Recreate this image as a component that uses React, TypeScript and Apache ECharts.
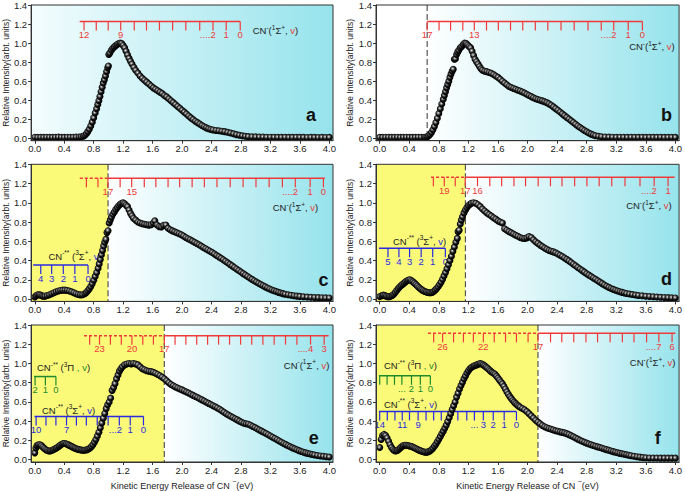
import React, { useEffect, useRef } from 'react';
import * as echarts from 'echarts';

const FONT = '"Liberation Sans", Arial, Helvetica, sans-serif';
const YELLOW = '#fafa78';
const CYAN = '#96e3ec';
const RED = '#f03a3a';
const BLUE = '#2a2ae0';
const GREEN = '#1f8a2a';
const INK = '#222222';

const xTickValues = [0, 0.4, 0.8, 1.2, 1.6, 2.0, 2.4, 2.8, 3.2, 3.6, 4.0];
const yTickValues = [0, 0.2, 0.4, 0.6, 0.8, 1.0, 1.2, 1.4];

// ---------- measured spectra (KER eV, relative intensity) ----------
const kerA = [[0.00,0.012],[0.04,0.010],[0.08,0.011],[0.12,0.010],[0.16,0.012],[0.20,0.011],[0.24,0.010],[0.28,0.012],[0.32,0.013],[0.36,0.011],[0.40,0.010],[0.44,0.012],[0.48,0.011],[0.52,0.012],[0.56,0.013],[0.60,0.014],[0.63,0.016],[0.66,0.022],[0.68,0.032],[0.70,0.048],[0.72,0.070],[0.74,0.095],[0.76,0.130],[0.78,0.170],[0.80,0.215],[0.82,0.265],[0.84,0.310],[0.855,0.355],[0.87,0.395],[0.885,0.440],[0.90,0.490],[0.915,0.535],[0.93,0.580],[0.945,0.615],[0.96,0.655],[0.975,0.700],[0.99,0.740],[1.00,0.760],[1.005,0.880],[1.02,0.895],[1.04,0.925],[1.06,0.945],[1.08,0.960],[1.10,0.975],[1.12,0.985],[1.14,0.995],[1.16,1.000],[1.18,0.995],[1.20,0.975],[1.22,0.950],[1.24,0.915],[1.26,0.875],[1.28,0.840],[1.30,0.810],[1.32,0.780],[1.345,0.745],[1.37,0.715],[1.40,0.685],[1.43,0.655],[1.46,0.630],[1.49,0.610],[1.52,0.590],[1.55,0.570],[1.58,0.550],[1.61,0.530],[1.64,0.515],[1.67,0.500],[1.70,0.485],[1.73,0.470],[1.76,0.450],[1.79,0.435],[1.82,0.415],[1.85,0.395],[1.88,0.375],[1.91,0.355],[1.94,0.335],[1.97,0.315],[2.00,0.295],[2.03,0.275],[2.06,0.255],[2.09,0.235],[2.12,0.215],[2.15,0.197],[2.18,0.180],[2.21,0.165],[2.24,0.150],[2.27,0.135],[2.30,0.122],[2.33,0.110],[2.36,0.100],[2.39,0.093],[2.42,0.088],[2.46,0.083],[2.50,0.079],[2.54,0.075],[2.58,0.070],[2.62,0.063],[2.66,0.055],[2.70,0.047],[2.74,0.039],[2.78,0.032],[2.82,0.026],[2.86,0.021],[2.90,0.018],[2.95,0.016],[3.00,0.015],[3.05,0.014],[3.10,0.013],[3.15,0.012],[3.20,0.012],[3.25,0.011],[3.30,0.011],[3.35,0.010],[3.40,0.011],[3.45,0.010],[3.50,0.010],[3.55,0.011],[3.60,0.010],[3.65,0.010],[3.70,0.009],[3.75,0.010],[3.80,0.010],[3.85,0.009],[3.90,0.010],[3.95,0.009],[4.00,0.010]];

const kerB = [[0.00,0.011],[0.04,0.010],[0.08,0.012],[0.12,0.011],[0.16,0.010],[0.20,0.011],[0.24,0.012],[0.28,0.010],[0.32,0.011],[0.36,0.012],[0.40,0.011],[0.44,0.010],[0.48,0.011],[0.52,0.012],[0.56,0.011],[0.60,0.011],[0.62,0.012],[0.64,0.015],[0.66,0.025],[0.68,0.040],[0.70,0.062],[0.72,0.090],[0.74,0.125],[0.76,0.165],[0.78,0.210],[0.80,0.260],[0.82,0.310],[0.84,0.360],[0.86,0.410],[0.875,0.450],[0.89,0.490],[0.905,0.530],[0.92,0.565],[0.935,0.600],[0.95,0.640],[0.965,0.675],[0.98,0.705],[0.995,0.725],[1.01,0.830],[1.025,0.835],[1.04,0.880],[1.055,0.905],[1.07,0.925],[1.09,0.950],[1.11,0.965],[1.13,0.985],[1.15,1.000],[1.17,0.995],[1.19,0.980],[1.21,0.965],[1.23,0.950],[1.25,0.915],[1.27,0.870],[1.29,0.830],[1.31,0.805],[1.33,0.780],[1.35,0.755],[1.37,0.730],[1.39,0.715],[1.42,0.705],[1.45,0.700],[1.48,0.692],[1.51,0.683],[1.54,0.670],[1.57,0.655],[1.60,0.640],[1.63,0.620],[1.66,0.600],[1.69,0.580],[1.72,0.562],[1.75,0.545],[1.78,0.533],[1.81,0.524],[1.84,0.515],[1.87,0.505],[1.90,0.497],[1.93,0.487],[1.96,0.475],[1.99,0.462],[2.02,0.450],[2.05,0.438],[2.08,0.426],[2.11,0.415],[2.14,0.407],[2.17,0.400],[2.20,0.393],[2.23,0.385],[2.26,0.375],[2.29,0.362],[2.32,0.348],[2.35,0.330],[2.38,0.312],[2.41,0.295],[2.44,0.276],[2.47,0.257],[2.50,0.238],[2.53,0.220],[2.56,0.202],[2.59,0.184],[2.62,0.166],[2.65,0.148],[2.68,0.130],[2.71,0.113],[2.74,0.097],[2.77,0.082],[2.80,0.068],[2.83,0.055],[2.86,0.044],[2.89,0.035],[2.92,0.027],[2.96,0.021],[3.00,0.017],[3.05,0.014],[3.10,0.013],[3.15,0.012],[3.20,0.011],[3.25,0.012],[3.30,0.011],[3.35,0.010],[3.40,0.011],[3.45,0.011],[3.50,0.010],[3.55,0.011],[3.60,0.010],[3.65,0.011],[3.70,0.010],[3.75,0.010],[3.80,0.011],[3.85,0.010],[3.90,0.010],[3.95,0.011],[4.00,0.010]];

const kerC = [[0.00,0.020],[0.02,0.035],[0.04,0.045],[0.06,0.045],[0.08,0.040],[0.10,0.032],[0.12,0.028],[0.14,0.030],[0.17,0.036],[0.20,0.045],[0.23,0.055],[0.26,0.065],[0.29,0.075],[0.32,0.083],[0.35,0.089],[0.38,0.092],[0.41,0.092],[0.44,0.089],[0.47,0.083],[0.50,0.075],[0.53,0.065],[0.56,0.055],[0.59,0.047],[0.62,0.043],[0.65,0.045],[0.68,0.055],[0.70,0.068],[0.72,0.085],[0.74,0.105],[0.76,0.130],[0.78,0.160],[0.80,0.195],[0.82,0.235],[0.84,0.275],[0.86,0.320],[0.875,0.365],[0.89,0.410],[0.905,0.460],[0.92,0.505],[0.935,0.550],[0.95,0.590],[0.965,0.620],[0.98,0.690],[0.995,0.710],[1.01,0.790],[1.025,0.820],[1.04,0.850],[1.06,0.880],[1.08,0.905],[1.10,0.930],[1.12,0.950],[1.14,0.970],[1.16,0.985],[1.18,0.995],[1.20,1.000],[1.22,0.990],[1.24,0.975],[1.26,0.960],[1.28,0.925],[1.30,0.890],[1.32,0.865],[1.34,0.840],[1.37,0.820],[1.40,0.800],[1.43,0.790],[1.46,0.782],[1.49,0.776],[1.52,0.772],[1.55,0.768],[1.58,0.772],[1.61,0.790],[1.63,0.812],[1.66,0.770],[1.69,0.752],[1.72,0.748],[1.75,0.765],[1.78,0.770],[1.81,0.735],[1.84,0.720],[1.87,0.708],[1.90,0.698],[1.93,0.688],[1.96,0.678],[1.99,0.668],[2.02,0.655],[2.05,0.640],[2.08,0.627],[2.11,0.615],[2.14,0.602],[2.17,0.590],[2.20,0.577],[2.23,0.563],[2.26,0.550],[2.29,0.536],[2.32,0.523],[2.35,0.510],[2.38,0.497],[2.41,0.483],[2.44,0.468],[2.47,0.453],[2.50,0.438],[2.53,0.423],[2.56,0.408],[2.59,0.392],[2.62,0.376],[2.65,0.360],[2.68,0.344],[2.71,0.328],[2.74,0.312],[2.77,0.296],[2.80,0.280],[2.83,0.264],[2.86,0.249],[2.89,0.234],[2.92,0.219],[2.95,0.204],[2.98,0.190],[3.01,0.176],[3.04,0.163],[3.07,0.150],[3.10,0.138],[3.13,0.126],[3.16,0.115],[3.19,0.104],[3.22,0.094],[3.25,0.085],[3.28,0.077],[3.31,0.069],[3.34,0.062],[3.37,0.056],[3.40,0.050],[3.44,0.044],[3.48,0.039],[3.52,0.034],[3.56,0.030],[3.60,0.027],[3.65,0.023],[3.70,0.020],[3.75,0.018],[3.80,0.016],[3.85,0.014],[3.90,0.013],[3.95,0.012],[4.00,0.011]];

const kerD = [[0.00,0.025],[0.03,0.035],[0.05,0.040],[0.07,0.035],[0.09,0.028],[0.11,0.024],[0.13,0.024],[0.15,0.028],[0.17,0.036],[0.19,0.050],[0.21,0.068],[0.23,0.088],[0.25,0.108],[0.27,0.125],[0.29,0.140],[0.31,0.152],[0.33,0.165],[0.35,0.178],[0.37,0.190],[0.39,0.198],[0.41,0.200],[0.43,0.190],[0.45,0.178],[0.47,0.165],[0.49,0.150],[0.51,0.135],[0.53,0.120],[0.55,0.106],[0.57,0.095],[0.59,0.086],[0.61,0.078],[0.63,0.072],[0.65,0.068],[0.67,0.065],[0.69,0.065],[0.71,0.068],[0.73,0.078],[0.75,0.092],[0.77,0.108],[0.79,0.128],[0.81,0.150],[0.83,0.175],[0.85,0.205],[0.87,0.240],[0.89,0.275],[0.91,0.315],[0.93,0.355],[0.95,0.400],[0.97,0.445],[0.99,0.495],[1.01,0.540],[1.03,0.590],[1.05,0.630],[1.06,0.700],[1.075,0.715],[1.09,0.780],[1.105,0.820],[1.12,0.855],[1.14,0.895],[1.16,0.925],[1.18,0.950],[1.20,0.970],[1.22,0.985],[1.24,0.995],[1.27,1.000],[1.30,0.995],[1.33,0.980],[1.36,0.960],[1.39,0.935],[1.42,0.915],[1.45,0.895],[1.48,0.878],[1.51,0.862],[1.54,0.845],[1.57,0.830],[1.60,0.812],[1.63,0.800],[1.66,0.790],[1.69,0.730],[1.72,0.715],[1.75,0.700],[1.78,0.688],[1.81,0.675],[1.84,0.663],[1.87,0.652],[1.90,0.640],[1.93,0.632],[1.96,0.628],[1.99,0.635],[2.02,0.648],[2.05,0.640],[2.08,0.615],[2.11,0.595],[2.14,0.578],[2.17,0.560],[2.20,0.545],[2.23,0.530],[2.26,0.517],[2.29,0.505],[2.32,0.497],[2.35,0.490],[2.38,0.480],[2.41,0.468],[2.44,0.455],[2.47,0.442],[2.50,0.427],[2.53,0.412],[2.56,0.396],[2.59,0.379],[2.62,0.362],[2.65,0.345],[2.68,0.328],[2.71,0.311],[2.74,0.295],[2.77,0.279],[2.80,0.263],[2.83,0.248],[2.86,0.233],[2.89,0.219],[2.92,0.205],[2.95,0.190],[2.98,0.175],[3.01,0.160],[3.04,0.146],[3.07,0.133],[3.10,0.121],[3.13,0.110],[3.16,0.100],[3.19,0.091],[3.22,0.083],[3.25,0.076],[3.28,0.069],[3.31,0.063],[3.34,0.057],[3.38,0.051],[3.42,0.046],[3.46,0.041],[3.50,0.037],[3.55,0.033],[3.60,0.029],[3.65,0.026],[3.70,0.023],[3.75,0.020],[3.80,0.018],[3.85,0.016],[3.90,0.014],[3.95,0.012],[4.00,0.011]];

const kerE = [[0.00,0.070],[0.015,0.120],[0.03,0.145],[0.05,0.155],[0.07,0.155],[0.09,0.145],[0.11,0.130],[0.13,0.115],[0.15,0.103],[0.17,0.095],[0.19,0.090],[0.21,0.090],[0.23,0.095],[0.25,0.102],[0.27,0.110],[0.29,0.118],[0.31,0.128],[0.33,0.140],[0.35,0.152],[0.37,0.162],[0.39,0.168],[0.41,0.168],[0.43,0.163],[0.45,0.156],[0.47,0.148],[0.49,0.140],[0.51,0.132],[0.53,0.124],[0.55,0.117],[0.57,0.111],[0.59,0.106],[0.61,0.102],[0.63,0.099],[0.65,0.097],[0.67,0.097],[0.69,0.099],[0.71,0.103],[0.73,0.110],[0.75,0.120],[0.77,0.135],[0.79,0.155],[0.81,0.180],[0.83,0.210],[0.85,0.245],[0.87,0.285],[0.89,0.330],[0.91,0.380],[0.93,0.430],[0.95,0.480],[0.97,0.530],[0.99,0.570],[1.01,0.600],[1.03,0.640],[1.05,0.720],[1.07,0.750],[1.09,0.790],[1.11,0.840],[1.13,0.880],[1.15,0.920],[1.17,0.945],[1.19,0.965],[1.22,0.985],[1.25,0.995],[1.28,1.000],[1.31,0.995],[1.34,1.000],[1.37,0.995],[1.40,0.985],[1.43,0.965],[1.46,0.945],[1.49,0.935],[1.52,0.925],[1.55,0.918],[1.58,0.915],[1.61,0.908],[1.64,0.898],[1.67,0.886],[1.70,0.872],[1.73,0.857],[1.76,0.840],[1.79,0.820],[1.82,0.800],[1.85,0.782],[1.88,0.768],[1.91,0.756],[1.94,0.745],[1.97,0.735],[2.00,0.725],[2.03,0.714],[2.06,0.703],[2.09,0.692],[2.12,0.680],[2.15,0.668],[2.18,0.656],[2.21,0.645],[2.24,0.633],[2.27,0.621],[2.30,0.609],[2.33,0.597],[2.36,0.585],[2.39,0.573],[2.42,0.561],[2.45,0.549],[2.48,0.537],[2.51,0.524],[2.54,0.508],[2.57,0.492],[2.60,0.477],[2.63,0.463],[2.66,0.450],[2.69,0.437],[2.72,0.425],[2.75,0.413],[2.78,0.400],[2.81,0.388],[2.84,0.378],[2.87,0.372],[2.90,0.368],[2.93,0.358],[2.96,0.345],[2.99,0.333],[3.02,0.320],[3.05,0.308],[3.08,0.296],[3.11,0.284],[3.14,0.272],[3.17,0.259],[3.20,0.246],[3.23,0.233],[3.26,0.220],[3.29,0.207],[3.32,0.194],[3.35,0.181],[3.38,0.168],[3.41,0.156],[3.44,0.144],[3.47,0.133],[3.50,0.122],[3.53,0.112],[3.56,0.102],[3.59,0.093],[3.62,0.085],[3.65,0.077],[3.68,0.070],[3.71,0.064],[3.74,0.058],[3.77,0.053],[3.80,0.048],[3.84,0.043],[3.88,0.038],[3.92,0.034],[3.96,0.030],[4.00,0.027]];

const kerF = [[0.00,0.125],[0.02,0.210],[0.04,0.250],[0.06,0.262],[0.08,0.250],[0.10,0.225],[0.12,0.190],[0.14,0.155],[0.16,0.125],[0.18,0.105],[0.20,0.092],[0.22,0.090],[0.24,0.095],[0.26,0.108],[0.28,0.122],[0.30,0.135],[0.32,0.145],[0.34,0.150],[0.36,0.150],[0.38,0.146],[0.40,0.142],[0.42,0.138],[0.44,0.133],[0.46,0.126],[0.48,0.118],[0.50,0.110],[0.52,0.103],[0.54,0.096],[0.56,0.090],[0.58,0.084],[0.60,0.079],[0.62,0.077],[0.64,0.078],[0.66,0.082],[0.68,0.090],[0.70,0.102],[0.72,0.118],[0.74,0.138],[0.76,0.160],[0.78,0.185],[0.80,0.212],[0.82,0.240],[0.84,0.268],[0.86,0.296],[0.88,0.326],[0.90,0.358],[0.92,0.395],[0.94,0.435],[0.96,0.478],[0.98,0.520],[1.00,0.560],[1.02,0.600],[1.04,0.650],[1.06,0.690],[1.08,0.735],[1.10,0.770],[1.12,0.805],[1.14,0.840],[1.16,0.870],[1.18,0.900],[1.20,0.925],[1.22,0.945],[1.24,0.958],[1.26,0.968],[1.28,0.976],[1.30,0.982],[1.32,0.988],[1.34,0.995],[1.36,1.000],[1.38,0.995],[1.40,0.985],[1.42,0.975],[1.44,0.962],[1.46,0.950],[1.48,0.935],[1.50,0.920],[1.52,0.908],[1.54,0.898],[1.56,0.888],[1.58,0.868],[1.60,0.848],[1.62,0.828],[1.64,0.808],[1.66,0.788],[1.68,0.762],[1.70,0.735],[1.72,0.705],[1.74,0.680],[1.76,0.655],[1.78,0.635],[1.80,0.615],[1.82,0.598],[1.84,0.582],[1.86,0.568],[1.88,0.556],[1.90,0.545],[1.93,0.532],[1.96,0.518],[1.99,0.500],[2.02,0.478],[2.05,0.455],[2.08,0.432],[2.11,0.410],[2.14,0.390],[2.17,0.372],[2.20,0.355],[2.23,0.342],[2.26,0.332],[2.29,0.323],[2.32,0.315],[2.35,0.308],[2.38,0.300],[2.41,0.294],[2.44,0.288],[2.47,0.283],[2.50,0.278],[2.53,0.270],[2.56,0.260],[2.59,0.249],[2.62,0.237],[2.65,0.225],[2.68,0.213],[2.71,0.201],[2.74,0.190],[2.77,0.180],[2.80,0.171],[2.83,0.162],[2.86,0.154],[2.89,0.146],[2.92,0.139],[2.95,0.132],[2.98,0.125],[3.01,0.118],[3.04,0.111],[3.07,0.104],[3.10,0.097],[3.13,0.090],[3.16,0.083],[3.19,0.077],[3.22,0.071],[3.25,0.065],[3.28,0.060],[3.31,0.055],[3.34,0.050],[3.37,0.045],[3.40,0.040],[3.44,0.035],[3.48,0.030],[3.52,0.026],[3.56,0.022],[3.60,0.019],[3.65,0.017],[3.70,0.016],[3.75,0.016],[3.80,0.015],[3.85,0.015],[3.90,0.015],[3.95,0.015],[4.00,0.015]];

// ---------- vibrational level combs (KER positions and labels) ----------
const redTicksA = [0.669, 0.835, 0.997, 1.167, 1.351, 1.517, 1.693, 1.872, 2.051, 2.24, 2.42, 2.60, 2.79];
const redLabelsA = ['12', '', '', '9', '', '', '', '', '', '', '....2', '1', '0'];
const redTicksB = [0.642, 0.803, 0.959, 1.124, 1.280, 1.445, 1.605, 1.770, 1.935, 2.105, 2.274, 2.453, 2.631, 2.818, 2.997, 3.166, 3.362, 3.554];
const redLabelsB = ['17', '', '', '', '13', '', '', '', '', '', '', '', '', '', '', '....2', '1', '0'];
const redTicksC = [0.701, 0.858, 0.993, 1.159, 1.316, 1.487, 1.644, 1.81, 1.967, 2.137, 2.303, 2.474, 2.654, 2.829, 3.004, 3.183, 3.363, 3.538, 3.74, 3.92];
const redLabelsC = ['', '', '17', '', '15', '', '', '', '', '', '', '', '', '', '', '', '', '....2', '1', '0'];
const redTicksD = [0.726, 0.874, 1.022, 1.157, 1.323, 1.489, 1.650, 1.816, 1.973, 2.144, 2.310, 2.466, 2.637, 2.803, 2.969, 3.139, 3.318, 3.521, 3.713, 3.901];
const redLabelsD = ['', '19', '', '17', '16', '', '', '', '', '', '', '', '', '', '', '', '', '', '....2', '1'];
const redTicksE = [0.745, 0.879, 1.027, 1.175, 1.319, 1.467, 1.611, 1.759, 1.905, 2.052, 2.199, 2.347, 2.496, 2.645, 2.795, 2.946, 3.098, 3.251, 3.405, 3.56, 3.745, 3.93];
const redLabelsE = ['', '23', '', '', '20', '', '', '17', '', '', '', '', '', '', '', '', '', '', '', '', '....4', '3'];
const redTicksF = [0.730, 0.851, 0.999, 1.133, 1.267, 1.402, 1.550, 1.702, 1.850, 2.007, 2.141, 2.311, 2.463, 2.625, 2.790, 2.947, 3.117, 3.283, 3.440, 3.610, 3.776, 3.955];
const redLabelsF = ['', '26', '', '', '', '22', '', '', '', '', '17', '', '', '', '', '', '', '', '', '', '....7', '6'];

const blueTicksC = [0.081, 0.229, 0.387, 0.544, 0.723];
const blueLabelsC = ['4', '3', '2', '1', '0'];
const blueTicksD = [0.112, 0.260, 0.404, 0.561, 0.717, 0.888];
const blueLabelsD = ['5', '4', '3', '2', '1', '0'];
const blueTicksE = [0.018, 0.152, 0.287, 0.431, 0.565, 0.700, 0.848, 0.996, 1.148, 1.296, 1.476];
const blueLabelsE = ['10', '', '', '7', '', '', '', '', '...2', '1', '0'];
const blueTicksF = [0.0, 0.103, 0.206, 0.305, 0.403, 0.520, 0.627, 0.730, 0.833, 0.941, 1.057, 1.178, 1.281, 1.402, 1.536, 1.684, 1.850];
const blueLabelsF = ['14', '', '', '11', '', '9', '', '', '', '', '', '', '...', '3', '2', '1', '0'];

const greenTicksE = [0.004, 0.144, 0.287];
const greenLabelsE = ['2', '1', '0'];
const greenTicksF = [0.0, 0.1, 0.2, 0.3, 0.43, 0.55, 0.685];
const greenLabelsF = ['', '', '', '...', '2', '1', '0'];

// ---------- layout / styling ----------
type Title = { kind: 'singlet' | 'triplet' | 'pi'; x: number; y: number; align: 'left' | 'right' };
type Comb = {
  ticks: number[]; labels: string[]; y: number; from: number; to: number;
  dashTo?: number; color: string; vColor: string; title: Title;
};
type Panel = {
  id: string; data: number[][];
  box: { left: number; top: number; width: number; height: number };
  split: number | null; leftFill: string | null;
  combs: Comb[]; letter: [number, number]; xName: boolean;
};

const LCOL = { left: 28.3, width: 304.7 };
const RCOL = { left: 376, width: 306 };
const ROWS = [{ top: 4.3, height: 136.4 }, { top: 164.3, height: 137.1 }, { top: 325, height: 137.4 }];

const panels: Panel[] = [
  {
    id: 'a', data: kerA, box: { ...LCOL, ...ROWS[0] }, split: null, leftFill: null, xName: false,
    letter: [3.75, 0.244],
    combs: [{ ticks: redTicksA, labels: redLabelsA, y: 1.226, from: 0.61, to: 2.79, color: RED, vColor: RED,
      title: { kind: 'singlet', x: 2.96, y: 1.14, align: 'left' } }],
  },
  {
    id: 'b', data: kerB, box: { ...RCOL, ...ROWS[0] }, split: 0.642, leftFill: '#ffffff', xName: false,
    letter: [3.88, 0.244],
    combs: [{ ticks: redTicksB, labels: redLabelsB, y: 1.226, from: 0.642, to: 3.554, color: RED, vColor: RED,
      title: { kind: 'singlet', x: 3.99, y: 0.97, align: 'right' } }],
  },
  {
    id: 'c', data: kerC, box: { ...LCOL, ...ROWS[1] }, split: 0.995, leftFill: YELLOW, xName: false,
    letter: [3.92, 0.198],
    combs: [
      { ticks: redTicksC, labels: redLabelsC, y: 1.254, from: 0.611, dashTo: 0.995, to: 3.94, color: RED, vColor: RED,
        title: { kind: 'singlet', x: 3.85, y: 0.96, align: 'right' } },
      { ticks: blueTicksC, labels: blueLabelsC, y: 0.353, from: -0.022, to: 0.723, color: BLUE, vColor: BLUE,
        title: { kind: 'triplet', x: 0.185, y: 0.457, align: 'left' } },
    ],
  },
  {
    id: 'd', data: kerD, box: { ...RCOL, ...ROWS[1] }, split: 1.16, leftFill: YELLOW, xName: false,
    letter: [3.88, 0.208],
    combs: [
      { ticks: redTicksD, labels: redLabelsD, y: 1.265, from: 0.695, dashTo: 1.16, to: 3.99, color: RED, vColor: RED,
        title: { kind: 'singlet', x: 3.95, y: 0.98, align: 'right' } },
      { ticks: blueTicksD, labels: blueLabelsD, y: 0.527, from: -0.009, to: 0.888, color: BLUE, vColor: BLUE,
        title: { kind: 'triplet', x: 0.18, y: 0.613, align: 'left' } },
    ],
  },
  {
    id: 'e', data: kerE, box: { ...LCOL, ...ROWS[2] }, split: 1.759, leftFill: YELLOW, xName: true,
    letter: [3.79, 0.225],
    combs: [
      { ticks: redTicksE, labels: redLabelsE, y: 1.289, from: 0.668, dashTo: 1.759, to: 3.99, color: RED, vColor: RED,
        title: { kind: 'singlet', x: 4.0, y: 0.99, align: 'right' } },
      { ticks: blueTicksE, labels: blueLabelsE, y: 0.449, from: -0.004, to: 1.476, color: BLUE, vColor: BLUE,
        title: { kind: 'triplet', x: 0.098, y: 0.526, align: 'left' } },
      { ticks: greenTicksE, labels: greenLabelsE, y: 0.864, from: -0.01, to: 0.287, color: GREEN, vColor: GREEN,
        title: { kind: 'pi', x: 0.03, y: 0.968, align: 'left' } },
    ],
  },
  {
    id: 'f', data: kerF, box: { ...RCOL, ...ROWS[2] }, split: 2.141, leftFill: YELLOW, xName: true,
    letter: [3.76, 0.225],
    combs: [
      { ticks: redTicksF, labels: redLabelsF, y: 1.314, from: 0.654, dashTo: 2.141, to: 4.0, color: RED, vColor: RED,
        title: { kind: 'singlet', x: 4.0, y: 1.02, align: 'right' } },
      { ticks: blueTicksF, labels: blueLabelsF, y: 0.501, from: -0.01, to: 1.85, color: BLUE, vColor: BLUE,
        title: { kind: 'triplet', x: 0.058, y: 0.588, align: 'left' } },
      { ticks: greenTicksF, labels: greenLabelsF, y: 0.871, from: -0.01, to: 0.685, color: GREEN, vColor: GREEN,
        title: { kind: 'pi', x: 0.058, y: 0.985, align: 'left' } },
    ],
  },
];

const X_MIN = -0.05, X_MAX = 4.05, Y_MIN = -0.025, Y_MAX = 1.4;
const TICK = 9;

function titleText(kind: Title['kind']): string {
  if (kind === 'singlet') return '{t|CN}{s|-}{t|(}{s|1}{t|\u03A3}{s|+}{t|, }{v|v}{t|)}';
  if (kind === 'triplet') return '{t|CN}{s|-**}{t| (}{s|3}{t|\u03A3}{s|+}{t|, }{v|v}{t|)}';
  return '{t|CN}{s|-**}{t| (}{s|3}{t|\u03A0 }{v|, v}{t|)}';
}

function titleRich(vColor: string) {
  return {
    t: { fontSize: 9.5, fontFamily: FONT, fill: INK, lineHeight: 12, verticalAlign: 'bottom' },
    s: { fontSize: 6.5, fontFamily: FONT, fill: INK, lineHeight: 12, verticalAlign: 'top' },
    v: { fontSize: 9.5, fontFamily: FONT, fill: vColor, lineHeight: 12, verticalAlign: 'bottom' },
  };
}

function combSeries(comb: Comb, gi: number) {
  return {
    type: 'custom', xAxisIndex: gi, yAxisIndex: gi, z: 3, silent: true,
    data: comb.ticks.map((x) => [x, comb.y]),
    renderItem: (params: any, api: any) => {
      const i = params.dataIndex;
      const p = api.coord([api.value(0), api.value(1)]);
      const children: any[] = [];
      children.push({ type: 'line', shape: { x1: p[0], y1: p[1], x2: p[0], y2: p[1] + TICK },
        style: { stroke: comb.color, lineWidth: 1.2 } });
      const lab = comb.labels[i];
      if (lab) {
        const dotted = lab.length > 1 && lab[0] === '.' && /\d$/.test(lab);
        children.push({ type: 'text', x: dotted ? p[0] + 2.7 : p[0], y: p[1] + TICK - 1,
          style: { text: lab, fill: comb.color, fontSize: 9.5, fontFamily: FONT,
            align: dotted ? 'right' : 'center', verticalAlign: 'top' } });
      }
      if (i === 0) {
        const a = api.coord([comb.from, comb.y]);
        const b = api.coord([comb.to, comb.y]);
        if (comb.dashTo != null) {
          const d = api.coord([comb.dashTo, comb.y]);
          children.push({ type: 'line', shape: { x1: a[0], y1: a[1], x2: d[0], y2: d[1] },
            style: { stroke: comb.color, lineWidth: 1.5, lineDash: [3, 2] } });
          children.push({ type: 'line', shape: { x1: d[0], y1: d[1], x2: b[0], y2: b[1] },
            style: { stroke: comb.color, lineWidth: 1.5 } });
        } else {
          children.push({ type: 'line', shape: { x1: a[0], y1: a[1], x2: b[0], y2: b[1] },
            style: { stroke: comb.color, lineWidth: 1.5 } });
        }
        const tp = api.coord([comb.title.x, comb.title.y]);
        children.push({ type: 'text', x: tp[0], y: tp[1],
          style: { text: titleText(comb.title.kind), rich: titleRich(comb.vColor),
            align: comb.title.align, verticalAlign: 'middle' } });
      }
      return { type: 'group', children };
    },
  };
}

function backgroundSeries(p: Panel, gi: number) {
  const regions: { from: number; to: number; kind: string }[] = [];
  if (p.split == null) regions.push({ from: X_MIN, to: X_MAX, kind: 'grad0' });
  else {
    regions.push({ from: X_MIN, to: p.split, kind: 'left' });
    regions.push({ from: p.split, to: X_MAX, kind: 'grad' });
    regions.push({ from: p.split, to: p.split, kind: 'dash' });
  }
  return {
    type: 'custom', xAxisIndex: gi, yAxisIndex: gi, z: 1, silent: true,
    data: regions.map((r) => [r.from, r.to]),
    renderItem: (params: any, api: any) => {
      const r = regions[params.dataIndex];
      const cs = params.coordSys;
      const x0 = api.coord([api.value(0), 0])[0];
      const x1 = api.coord([api.value(1), 0])[0];
      if (r.kind === 'dash') {
        return { type: 'line', shape: { x1: x0, y1: cs.y, x2: x0, y2: cs.y + cs.height },
          style: { stroke: '#555', lineWidth: 1.2, lineDash: [6, 3] } };
      }
      let fill: any;
      if (r.kind === 'left') fill = p.leftFill;
      else fill = new echarts.graphic.LinearGradient(0, 0, 1, 0, [
        { offset: 0, color: r.kind === 'grad0' ? '#f4fdfe' : '#ffffff' },
        { offset: 1, color: CYAN },
      ]);
      return { type: 'rect', shape: { x: x0, y: cs.y, width: x1 - x0, height: cs.height }, style: { fill } };
    },
  };
}

function letterSeries(p: Panel, gi: number) {
  return {
    type: 'custom', xAxisIndex: gi, yAxisIndex: gi, z: 4, silent: true,
    data: [p.letter],
    renderItem: (params: any, api: any) => {
      const pt = api.coord([api.value(0), api.value(1)]);
      return { type: 'text', x: pt[0], y: pt[1],
        style: { text: p.id, fill: '#111', fontSize: 18, fontWeight: 'bold', fontFamily: FONT,
          align: 'center', verticalAlign: 'middle' } };
    },
  };
}

const sphere = new echarts.graphic.RadialGradient(0.42, 0.4, 0.55, [
  { offset: 0, color: '#f2f2f2' },
  { offset: 0.25, color: '#8a8a8a' },
  { offset: 0.6, color: '#161616' },
  { offset: 1, color: '#000000' },
]);

function buildOption() {
  const grid = panels.map((p) => ({ ...p.box, show: true, borderColor: '#333', borderWidth: 1,
    backgroundColor: 'transparent', z: 10 }));
  const xAxis = panels.map((p, gi) => ({
    gridIndex: gi, type: 'value', min: X_MIN, max: X_MAX, z: 10,
    axisLine: { show: true, onZero: false, lineStyle: { color: '#333', width: 1 } },
    axisTick: { show: true, customValues: xTickValues, length: 3, lineStyle: { color: '#333' } },
    axisLabel: { customValues: xTickValues, formatter: (v: number) => v.toFixed(1), fontSize: 9.5,
      color: INK, fontFamily: FONT, margin: 3 },
    splitLine: { show: false },
    name: p.xName ? '{n|Kinetic Energy Release of CN }{s|\u2212}{n|(eV)}' : '',
    nameLocation: 'middle', nameGap: 16,
    nameTextStyle: { rich: {
      n: { fontSize: 9, fontFamily: FONT, color: INK, lineHeight: 12, verticalAlign: 'bottom' },
      s: { fontSize: 7, fontFamily: FONT, color: INK, lineHeight: 12, verticalAlign: 'top' },
    } },
  }));
  const yAxis = panels.map((p, gi) => ({
    gridIndex: gi, type: 'value', min: Y_MIN, max: Y_MAX, z: 10,
    axisLine: { show: true, onZero: false, lineStyle: { color: '#333', width: 1 } },
    axisTick: { show: true, customValues: yTickValues, length: 3, lineStyle: { color: '#333' } },
    axisLabel: { customValues: yTickValues, formatter: (v: number) => v.toFixed(1), fontSize: 9.5,
      color: INK, fontFamily: FONT, margin: 4 },
    splitLine: { show: false },
    name: 'Relative Intensity(arbt. units)', nameLocation: 'middle', nameGap: 15,
    nameTextStyle: { fontSize: 8.5, fontFamily: FONT, color: INK },
  }));
  const series: any[] = [];
  panels.forEach((p, gi) => {
    series.push(backgroundSeries(p, gi));
    p.combs.forEach((c) => series.push(combSeries(c, gi)));
    series.push(letterSeries(p, gi));
    series.push({
      type: 'scatter', xAxisIndex: gi, yAxisIndex: gi, z: 5, silent: true,
      data: p.data, symbol: 'circle', symbolSize: 7,
      itemStyle: { color: sphere, opacity: 1 },
    });
  });
  return { animation: false, backgroundColor: '#ffffff', grid, xAxis, yAxis, series };
}

export default function App() {
  const ref = useRef<HTMLDivElement>(null);
  useEffect(() => {
    if (!ref.current) return;
    const chart = echarts.init(ref.current, null, { renderer: 'svg' });
    chart.setOption(buildOption() as any);
    return () => chart.dispose();
  }, []);
  return <div ref={ref} style={{ position: 'absolute', left: 0, top: 0, width: 685, height: 491 }} />;
}
